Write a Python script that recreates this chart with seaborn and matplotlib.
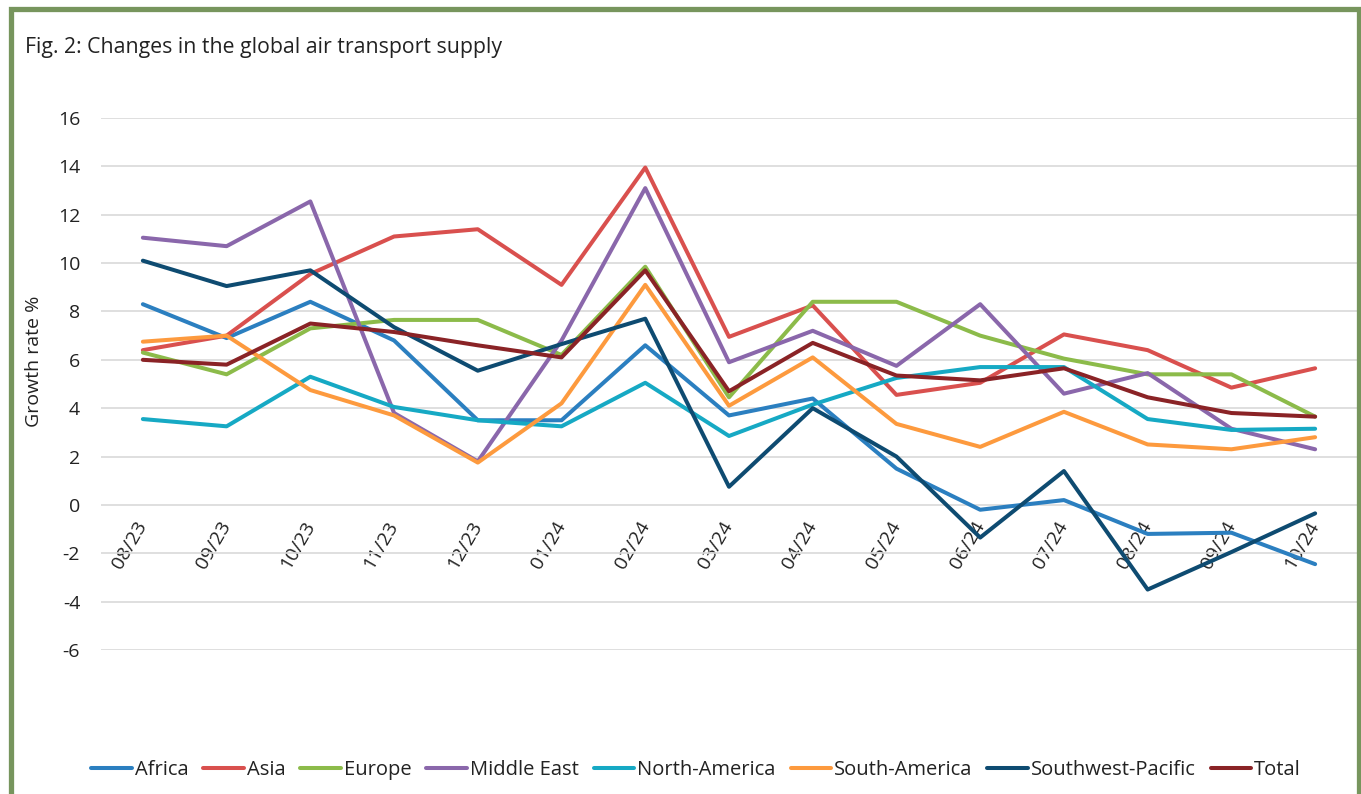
import numpy as np
import pandas as pd
import matplotlib
matplotlib.use("Agg")
import matplotlib.pyplot as plt
import seaborn as sns
from matplotlib.patches import Rectangle
from matplotlib.lines import Line2D

months = ["08/23", "09/23", "10/23", "11/23", "12/23", "01/24", "02/24", "03/24",
          "04/24", "05/24", "06/24", "07/24", "08/24", "09/24", "10/24"]

africa = [8.3, 6.9, 8.4, 6.8, 3.5, 3.5, 6.6, 3.7, 4.4, 1.5, -0.2, 0.2, -1.2, -1.15, -2.45]
asia = [6.4, 7.0, 9.55, 11.1, 11.4, 9.1, 13.95, 6.95, 8.25, 4.55, 5.05, 7.05, 6.4, 4.85, 5.65]
europe = [6.3, 5.4, 7.3, 7.65, 7.65, 6.2, 9.85, 4.45, 8.4, 8.4, 7.0, 6.05, 5.4, 5.4, 3.65]
middle_east = [11.05, 10.7, 12.55, 3.8, 1.8, 6.8, 13.1, 5.9, 7.2, 5.75, 8.3, 4.6, 5.45, 3.15, 2.3]
north_america = [3.55, 3.25, 5.3, 4.05, 3.5, 3.25, 5.05, 2.85, 4.15, 5.25, 5.7, 5.7, 3.55, 3.1, 3.15]
south_america = [6.75, 7.0, 4.75, 3.7, 1.75, 4.2, 9.1, 4.1, 6.1, 3.35, 2.4, 3.85, 2.5, 2.3, 2.8]
sw_pacific = [10.1, 9.05, 9.7, 7.35, 5.55, 6.65, 7.7, 0.75, 4.0, 2.0, -1.35, 1.4, -3.5, -1.95, -0.35]
total = [6.0, 5.8, 7.5, 7.15, 6.6, 6.1, 9.7, 4.7, 6.7, 5.35, 5.15, 5.65, 4.45, 3.8, 3.65]

series_names = ["Africa", "Asia", "Europe", "Middle East", "North-America",
                "South-America", "Southwest-Pacific", "Total"]
series_values = [africa, asia, europe, middle_east, north_america,
                 south_america, sw_pacific, total]
colors = ["#2b7fc0", "#d9504e", "#8cbb4a", "#8a67ab", "#16a9c4",
          "#fd9a3e", "#0e4b71", "#8a2326"]
yticks = [-6, -4, -2, 0, 2, 4, 6, 8, 10, 12, 14, 16]

rows = []
for name, vals in zip(series_names, series_values):
    for i, (m, v) in enumerate(zip(months, vals)):
        rows.append({"idx": i, "month": m, "series": name, "value": v})
df = pd.DataFrame(rows)

sns.set_theme(style="white")
plt.rcParams["font.family"] = ["Open Sans", "DejaVu Sans"]

W, H = 1361, 794
fig = plt.figure(figsize=(W / 100, H / 100), dpi=100)
ax_left, ax_right = 101, 1357
ax_top, ax_bot = 118, 650
ax = fig.add_axes([ax_left / W, 1 - ax_bot / H, (ax_right - ax_left) / W, (ax_bot - ax_top) / H])

palette = dict(zip(series_names, colors))
sns.lineplot(data=df, x="idx", y="value", hue="series", hue_order=series_names,
             palette=palette, linewidth=2.9, ax=ax, legend=False, sort=False)

ax.set_xlim(-0.5, len(months) - 0.5)
ax.set_ylim(-6, 16)
ax.set_yticks(yticks)
ax.set_yticklabels([str(t) for t in yticks], fontsize=14, color="#222222")
ax.yaxis.grid(True, color="#d9d9d9", linewidth=1.2)
ax.xaxis.grid(False)
for s in ["top", "right", "left"]:
    ax.spines[s].set_visible(False)
ax.spines["bottom"].set_position(("data", 0))
ax.spines["bottom"].set_visible(False)
ax.set_xticks(range(len(months)))
ax.set_xticklabels(months, rotation=60, ha="right", va="center", rotation_mode="anchor",
                   fontsize=14, color="#222222")
ax.tick_params(axis="x", length=0, pad=13)
ax.tick_params(axis="y", length=0, pad=15)
ax.set_xlabel("")
ax.set_ylabel("Growth rate %", fontsize=14, color="#222222")
ax.yaxis.set_label_coords((43 - ax_left) / (ax_right - ax_left), (ax_bot - 361) / (ax_bot - ax_top))
ax.set_facecolor("none")

fig.text(25 / W, 1 - 47 / H, "Fig. 2: Changes in the global air transport supply",
         fontsize=15.3, color="#222222", va="center", ha="left")

handles = [Line2D([0], [0], color=c, linewidth=2.9) for c in colors]
fig.legend(handles, series_names, loc="center", bbox_to_anchor=(696 / W, 1 - 770 / H),
           ncol=8, frameon=False, fontsize=14.5, handlelength=2.0, handletextpad=0.15,
           columnspacing=0.75, labelcolor="#222222")

border = Rectangle((10.5 / W, -0.1), (1358.5 - 10.5) / W, 1.1 - 9.5 / H,
                   transform=fig.transFigure, fill=False, edgecolor="#77955d",
                   linewidth=3.8, clip_on=False)
fig.patches.append(border)

fig.savefig("out.png", dpi=100, facecolor="white")
